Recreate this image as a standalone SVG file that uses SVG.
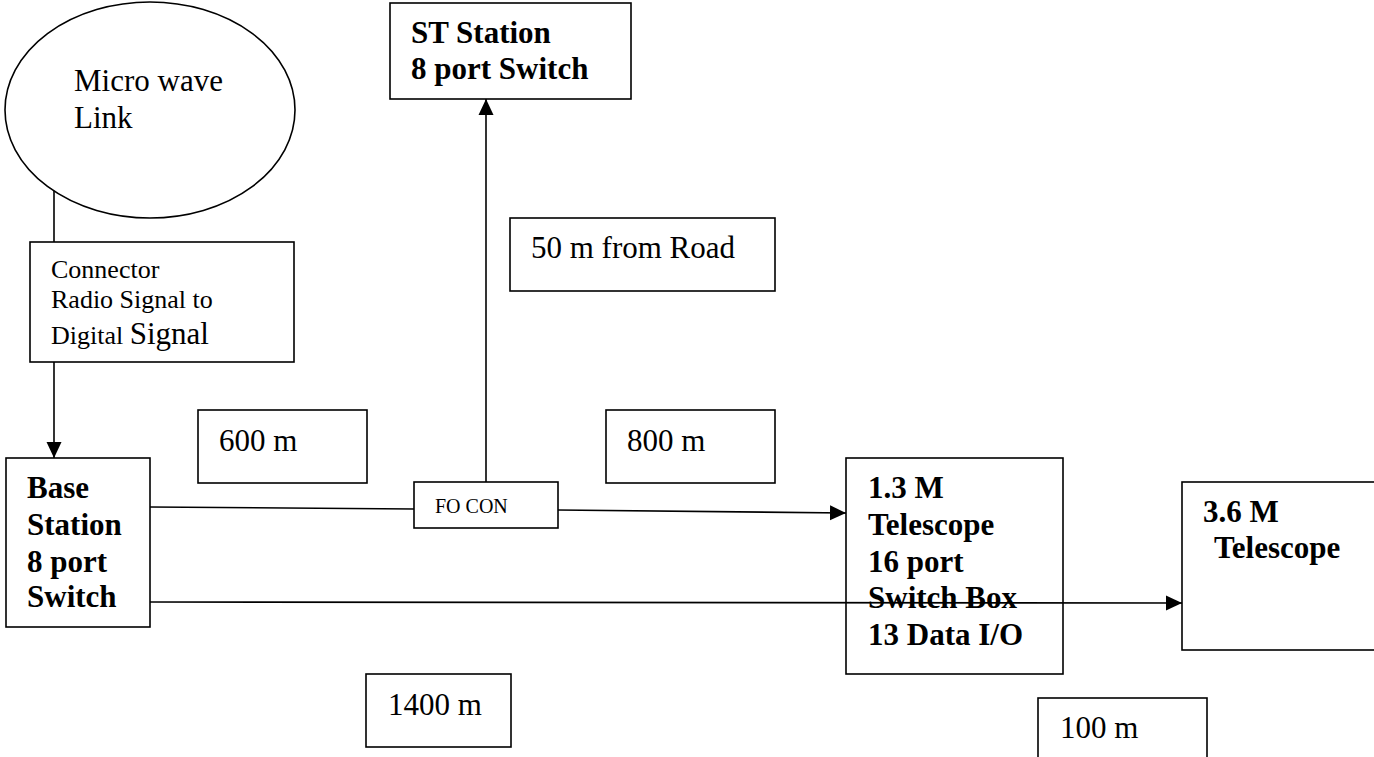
<svg xmlns="http://www.w3.org/2000/svg" width="1374" height="757" viewBox="0 0 1374 757">
<style>
.box{fill:#fff;stroke:#000;stroke-width:1.6}
.ln{fill:none;stroke:#000;stroke-width:1.6}
.t{font-family:"Liberation Serif","Times New Roman",serif;font-size:31px;fill:#000}
.s{font-size:26px}
.b{font-family:"Liberation Serif","Times New Roman",serif;font-size:31px;font-weight:bold;fill:#000}
.f{font-family:"Liberation Serif","Times New Roman",serif;font-size:20px;fill:#000}
</style>
<defs>
<marker id="arr" markerUnits="userSpaceOnUse" markerWidth="16" markerHeight="16" viewBox="0 0 16 16" refX="16" refY="8" orient="auto">
<path d="M0,0.5 L16,8 L0,15.5 Z" fill="#000"/>
</marker>
</defs>
<rect width="1374" height="757" fill="#fff"/>
<g id="connectors">
<line class="ln" x1="54" y1="191" x2="54" y2="242"/>
<line class="ln" x1="54" y1="362" x2="54" y2="458" marker-end="url(#arr)"/>
<line class="ln" x1="150" y1="507" x2="414" y2="509"/>
<line class="ln" x1="486" y1="482" x2="486" y2="99" marker-end="url(#arr)"/>
<line class="ln" x1="558" y1="510" x2="846" y2="513" marker-end="url(#arr)"/>
</g>
<g id="microwave">
<ellipse class="box" cx="150" cy="110" rx="145" ry="108"/>
<text class="t" x="74" y="91">Micro wave</text>
<text class="t" x="74" y="128">Link</text>
</g>
<g id="connector">
<rect class="box" x="30" y="242" width="264" height="120"/>
<text class="t s" x="51" y="278">Connector</text>
<text class="t s" x="51" y="308">Radio Signal to</text>
<text class="t s" x="51" y="344">Digital <tspan style="font-size:31px">Signal</tspan></text>
</g>
<g id="base">
<rect class="box" x="6" y="458" width="144" height="169"/>
<text class="b" x="27" y="498">Base</text>
<text class="b" x="27" y="535">Station</text>
<text class="b" x="27" y="572">8 port</text>
<text class="b" x="27" y="607">Switch</text>
</g>
<g id="st">
<rect class="box" x="390" y="3" width="241" height="96"/>
<text class="b" x="411" y="43">ST Station</text>
<text class="b" x="411" y="79">8 port Switch</text>
</g>
<g id="road">
<rect class="box" x="510" y="218" width="265" height="73"/>
<text class="t" x="531" y="258">50 m from Road</text>
</g>
<g id="d600">
<rect class="box" x="198" y="410" width="169" height="73"/>
<text class="t" x="219" y="451">600 m</text>
</g>
<g id="d800">
<rect class="box" x="606" y="410" width="169" height="73"/>
<text class="t" x="627" y="451">800 m</text>
</g>
<g id="focon">
<rect class="box" x="414" y="482" width="144" height="46"/>
<text class="f" x="435" y="513">FO CON</text>
</g>
<g id="t13">
<rect class="box" x="846" y="458" width="217" height="216"/>
<text class="b" x="868" y="498">1.3 M</text>
<text class="b" x="868" y="535">Telescope</text>
<text class="b" x="868" y="572">16 port</text>
<text class="b" x="868" y="608">Switch Box</text>
<text class="b" x="868" y="645">13 Data I/O</text>
</g>
<g id="t36">
<rect class="box" x="1182" y="482" width="200" height="168"/>
<text class="b" x="1203" y="522">3.6 M</text>
<text class="b" x="1214" y="558">Telescope</text>
</g>
<g id="d1400">
<rect class="box" x="366" y="674" width="145" height="73"/>
<text class="t" x="388" y="715">1400 m</text>
</g>
<g id="d100">
<rect class="box" x="1038" y="698" width="169" height="70"/>
<text class="t" x="1060" y="738">100 m</text>
</g>
<g id="connectors2">
<line class="ln" x1="150" y1="602" x2="1182" y2="603" marker-end="url(#arr)"/>
</g>
</svg>
